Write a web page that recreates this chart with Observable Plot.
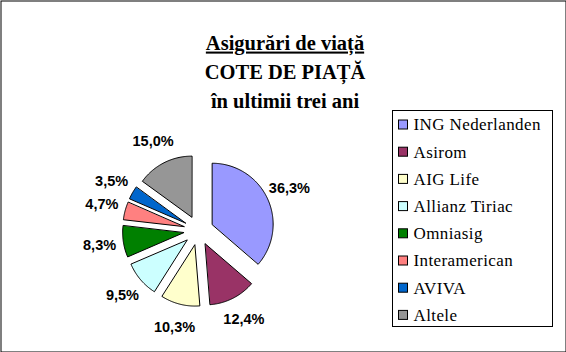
<!DOCTYPE html>
<html>
<head>
<meta charset="utf-8">
<script src="https://cdn.jsdelivr.net/npm/d3@7"></script>
<script src="https://cdn.jsdelivr.net/npm/@observablehq/plot@0.6"></script>
<style>
  html, body { margin: 0; padding: 0; background: #fff; }
  #chart svg { display: block; background: #fff; }
</style>
</head>
<body>
<div id="chart"></div>
<script>
// ---- data ----
const categories = ["ING Nederlanden", "Asirom", "AIG Life", "Allianz Tiriac", "Omniasig", "Interamerican", "AVIVA", "Altele"];
const shares = [36.3, 12.4, 10.3, 9.5, 8.3, 4.7, 3.5, 15.0];
const colors = ["#9999FF", "#993366", "#FFFFCC", "#CCFFFF", "#008000", "#FF8080", "#0066CC", "#969696"];
const titleLines = ["Asigurări de viață", "COTE DE PIAȚĂ", "în ultimii trei ani"];

// ---- layout ----
const W = 566, H = 352;
const cx = 198, cy = 230, R = 61, explode = 15, labelR = 100;
const SERIF = "'Liberation Serif', 'Times New Roman', serif";
const fmt = v => d3.format(".1f")(v).replace(".", ",") + "%";

const data = categories.map((name, i) => ({name, share: shares[i]}));
const arcs = d3.pie().sort(null).value(d => d.share)(data);

const slicePts = [];
const labelPts = [];
arcs.forEach(a => {
  const mid = (a.startAngle + a.endAngle) / 2;
  const ox = cx + explode * Math.sin(mid), oy = cy - explode * Math.cos(mid);
  slicePts.push({name: a.data.name, x: ox, y: oy});
  const n = Math.max(2, Math.ceil((a.endAngle - a.startAngle) / (Math.PI / 180)));
  for (let k = 0; k <= n; k++) {
    const t = a.startAngle + (a.endAngle - a.startAngle) * k / n;
    slicePts.push({name: a.data.name, x: ox + R * Math.sin(t), y: oy - R * Math.cos(t)});
  }
  labelPts.push({name: a.data.name, label: fmt(a.data.share),
    x: cx + labelR * Math.sin(mid), y: cy - labelR * Math.cos(mid)});
});

// legend layout
const lgX1 = 392, lgX2 = 552, lgY1 = 110, lgY2 = 326, lgTop = 124.5, lgStep = 27.2;
const legend = categories.map((name, i) => ({name, y: lgTop + i * lgStep}));

const titles = titleLines.map((t, i) => ({t, i, y: [42.5, 72, 100.5][i]}));

const plot = Plot.plot({
  width: W, height: H,
  margin: 0,
  x: {domain: [0, W], range: [0, W], axis: null},
  y: {domain: [0, H], range: [0, H], axis: null},
  color: {domain: categories, range: colors},
  marks: [
    Plot.frame({stroke: "black", inset: 0.5}),
    Plot.line(slicePts, {x: "x", y: "y", z: "name", fill: "name", stroke: "black", strokeWidth: 1, curve: "linear-closed"}),
    Plot.text(labelPts, {x: "x", y: "y", text: "label", fontFamily: "'Liberation Sans', Arial, sans-serif", fontWeight: "bold", fontSize: 14.5, fill: "black"}),
    Plot.text(titles, {x: () => 284.5, y: "y", text: "t", fontFamily: SERIF, fontWeight: "bold", fontSize: 20.5, fill: "black"}),
    Plot.rect([{}], {x1: () => lgX1 + 0.5, x2: () => lgX2 + 0.5, y1: () => lgY1 + 0.5, y2: () => lgY2 + 0.5, fill: "none", stroke: "black", strokeWidth: 1}),
    Plot.rect(legend, {x1: () => 398.5, x2: () => 407.5, y1: d => d.y - 4.5, y2: d => d.y + 4.5, fill: "name", stroke: "black", strokeWidth: 1}),
    Plot.text(legend, {x: () => 413, y: "y", text: "name", textAnchor: "start", fontFamily: SERIF, fontSize: 17, fill: "black"})
  ]
});

document.getElementById("chart").appendChild(plot);

// underline the first title line, slight letter spacing for legend entries
d3.select(plot).selectAll("text").each(function() {
  const s = this.textContent;
  if (s === titleLines[0]) this.setAttribute("text-decoration", "underline");
  if (categories.includes(s)) this.setAttribute("letter-spacing", "0.4");
});
</script>
</body>
</html>
